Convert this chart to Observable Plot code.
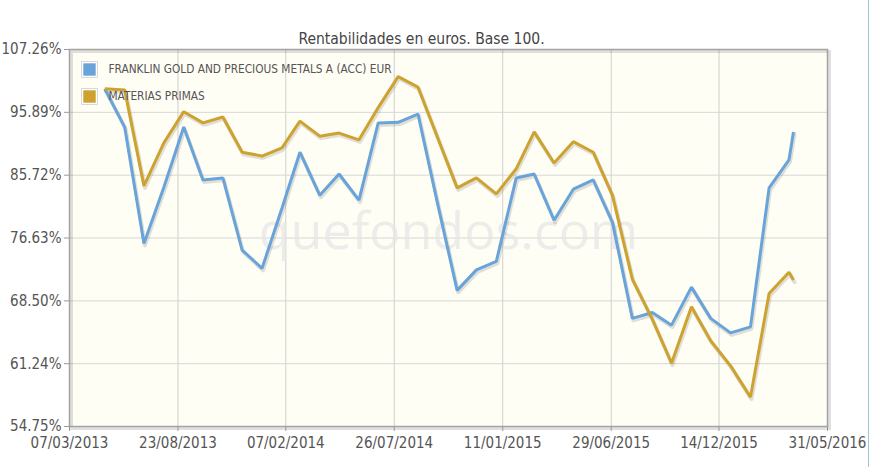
<!DOCTYPE html>
<html>
<head>
<meta charset="utf-8">
<script src="https://cdn.jsdelivr.net/npm/d3@7"></script>
<script src="https://cdn.jsdelivr.net/npm/@observablehq/plot@0.6"></script>
<style>
  html, body { margin: 0; padding: 0; background: #ffffff; }
  #wrap { position: relative; width: 872px; height: 467px; overflow: hidden; }
  #edge { position: absolute; left: 868px; top: 0; width: 1px; height: 467px; background: #9cc6d6; }
</style>
</head>
<body>
<div id="wrap"><div id="edge"></div></div>
<script>
// ---- data ----
const dates = [
  "2013-05-01","2013-06-01","2013-07-01","2013-08-01","2013-09-01","2013-10-01","2013-11-01","2013-12-01",
  "2014-01-01","2014-02-01","2014-03-01","2014-04-01","2014-05-01","2014-06-01","2014-07-01","2014-08-01",
  "2014-09-01","2014-10-01","2014-11-01","2014-12-01","2015-01-01","2015-02-01","2015-03-01","2015-04-01",
  "2015-05-01","2015-06-01","2015-07-01","2015-08-01","2015-09-01","2015-10-01","2015-11-01","2015-12-01",
  "2016-01-01","2016-02-01","2016-03-01","2016-04-01","2016-04-08"
];
const franklin = [
  100.0, 93.4, 75.9, 83.9, 93.4, 85.0, 85.3, 75.0,
  72.6, 80.8, 89.3, 82.7, 85.9, 82.0, 94.1, 94.2,
  95.6, 81.7, 69.8, 72.4, 73.5, 85.3, 85.9, 79.1,
  83.6, 85.0, 78.8, 66.4, 67.1, 65.6, 70.2, 66.4,
  64.7, 65.4, 83.8, 88.1, 92.6
];
const materias = [
  100.0, 99.8, 84.1, 90.8, 96.0, 94.1, 95.1, 89.3,
  88.7, 90.0, 94.4, 91.9, 92.4, 91.3, 96.7, 102.2,
  100.3, 91.8, 83.8, 85.3, 82.9, 86.7, 92.6, 87.6,
  91.0, 89.3, 82.7, 71.2, 66.3, 61.3, 67.8, 63.8,
  61.0, 57.7, 69.4, 72.1, 71.1
];
const seriesNames = ["FRANKLIN GOLD AND PRECIOUS METALS A (ACC) EUR", "MATERIAS PRIMAS"];
const seriesColors = ["#68a4da", "#cda22e"];
const yTicks = [54.75, 61.24, 68.50, 76.63, 85.72, 95.89, 107.26];
const xTicks = ["2013-03-07","2013-08-23","2014-02-07","2014-07-26","2015-01-11","2015-06-29","2015-12-14","2016-05-31"];
const title = "Rentabilidades en euros. Base 100.";
const watermark = "quefondos.com";

// ---- build table ----
const rows = [];
dates.forEach((d, i) => {
  rows.push({date: new Date(d), value: franklin[i], series: seriesNames[0]});
  rows.push({date: new Date(d), value: materias[i], series: seriesNames[1]});
});
const xTickDates = xTicks.map(d => new Date(d));

const FONT = "'DejaVu Sans Condensed', 'Liberation Sans Narrow', sans-serif";

const legendMarks = seriesNames.flatMap((name, i) => [
  Plot.dot([name], {frameAnchor: "top-left", dx: 20, dy: 20 + i * 27, symbol: "square",
    r: 9, fill: "#ffffff", stroke: "#d8d8d8", strokeWidth: 1}),
  Plot.dot([name], {frameAnchor: "top-left", dx: 20, dy: 20 + i * 27, symbol: "square",
    r: 7, fill: seriesColors[i], stroke: "none"}),
  Plot.text([name], {frameAnchor: "top-left", dx: 39, dy: 20 + i * 27, text: d => d,
    textAnchor: "start", lineAnchor: "middle", fontSize: 11.75, fill: "#555", fontFamily: FONT})
]);

const chart = Plot.plot({
  width: 872,
  height: 467,
  marginLeft: 69,
  marginRight: 45,
  marginTop: 49,
  marginBottom: 41,
  style: {fontFamily: FONT, background: "transparent", overflow: "visible"},
  x: {type: "utc", domain: [xTickDates[0], xTickDates[xTickDates.length - 1]]},
  y: {type: "log", domain: [yTicks[0], yTicks[yTicks.length - 1]]},
  color: {domain: seriesNames, range: seriesColors},
  marks: [
    Plot.frame({fill: "#fffef5", stroke: "none"}),
    Plot.gridX(xTickDates, {stroke: "#cfcfcf", strokeOpacity: 1, strokeWidth: 1}),
    Plot.gridY(yTicks, {stroke: "#d6d6d6", strokeOpacity: 1, strokeWidth: 1}),
    Plot.text([watermark], {frameAnchor: "middle", dy: -6, text: d => d, fontSize: 52,
      fontFamily: "'Open Sans', sans-serif", fill: "#e6e6e6", fillOpacity: 0.75, letterSpacing: 1}),
    Plot.line(rows, {x: "date", y: "value", z: "series", stroke: "#000", strokeOpacity: 0.12,
      strokeWidth: 4, dx: 1, dy: 2}),
    Plot.line(rows, {x: "date", y: "value", z: "series", stroke: "series", strokeWidth: 3,
      strokeLinejoin: "miter", strokeLinecap: "butt"}),
    Plot.frame({stroke: "#000", strokeOpacity: 0.12, strokeWidth: 3, dx: 2, dy: 2}),
    Plot.frame({stroke: "#a3a3a3", strokeWidth: 1.5}),
    Plot.axisX(xTickDates, {tickFormat: d3.utcFormat("%d/%m/%Y"), tickSize: 5, tickPadding: 6,
      fontSize: 15, fill: "#555", stroke: "#999", label: null, fontFamily: FONT}),
    Plot.axisY(yTicks, {tickFormat: d => d.toFixed(2) + "%", tickSize: 5, tickPadding: 3,
      fontSize: 15, fill: "#555", stroke: "#999", label: null, fontFamily: FONT}),
    ...legendMarks,
    Plot.text([title], {frameAnchor: "top", dx: -27, dy: -17, text: d => d, fontSize: 15.5,
      fill: "#444", fontFamily: FONT})
  ]
});
document.getElementById("wrap").appendChild(chart);
</script>
</body>
</html>
